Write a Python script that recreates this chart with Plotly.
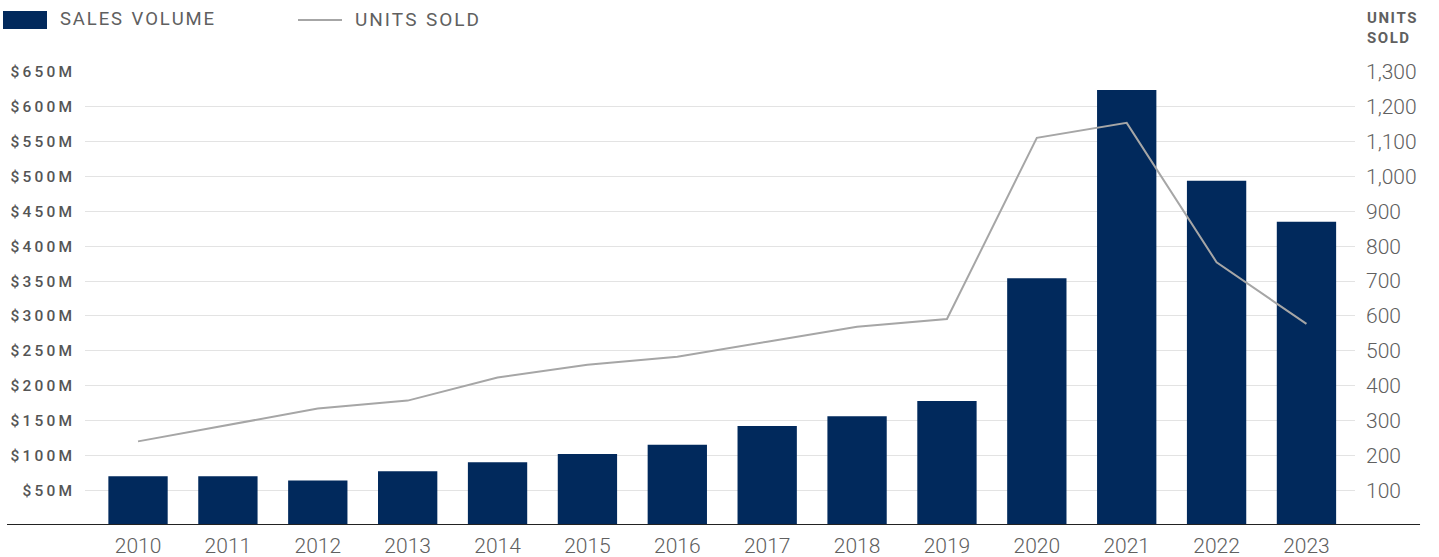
import plotly.graph_objects as go

years = [2010, 2011, 2012, 2013, 2014, 2015, 2016, 2017, 2018, 2019, 2020, 2021, 2022, 2023]
sales_m = [70, 70, 64, 77, 90, 102, 115, 142, 156, 178, 354, 624, 494, 435]
units = [240, 288, 334, 357, 423, 460, 483, 526, 569, 591, 1111, 1154, 754, 577]
left_ticks = list(range(50, 651, 50))
right_ticks = list(range(100, 1301, 100))

BAR = "#01295c"
LINE = "#a6a6a6"
GRID = "#e3e3e3"
TXT = "#606060"
FONT = "Roboto"
TS = "\u2009"  # thin space used as tracking


def track(s, sep=TS):
    return sep.join(list(s))


x = list(range(len(years)))

fig = go.Figure()
fig.add_trace(go.Bar(x=x, y=sales_m, marker=dict(color=BAR, line=dict(width=0)),
                     width=0.66, name="SALES VOLUME", yaxis="y"))
fig.add_trace(go.Scatter(x=x, y=units, mode="lines", line=dict(color=LINE, width=2),
                         name="UNITS SOLD", yaxis="y2"))

fig.update_layout(
    width=1439, height=557,
    margin=dict(l=85, r=84, t=72, b=32),
    plot_bgcolor="white", paper_bgcolor="white",
    showlegend=False,
    bargap=0.34,
    xaxis=dict(range=[-0.59, 13.54], tickvals=x, ticktext=[str(y) for y in years],
               showgrid=False, zeroline=False, showline=False, ticks="", automargin=False,
               tickfont=dict(family=FONT, size=21, color=TXT, weight=300), ticklabelstandoff=6),
    yaxis=dict(range=[0, 650], tickvals=left_ticks,
               ticktext=[track(f"${v}M") for v in left_ticks], automargin=False,
               showgrid=True, gridcolor=GRID, gridwidth=1, zeroline=False, showline=False,
               ticks="", ticklabelstandoff=12,
               tickfont=dict(family=FONT, size=15.5, color="#555555", weight=500)),
    yaxis2=dict(range=[0, 1300], tickvals=right_ticks, automargin=False,
                ticktext=[f"{v:,}" for v in right_ticks],
                overlaying="y", side="right", showgrid=False, zeroline=False,
                showline=False, ticks="", ticklabelstandoff=10,
                tickfont=dict(family=FONT, size=21, color=TXT, weight=300)),
)

# baseline
fig.add_shape(type="line", xref="paper", yref="y", x0=-0.0614, x1=1.0512, y0=0, y1=0,
              line=dict(color="#222222", width=2), layer="above")

# custom legend
fig.add_shape(type="rect", xref="paper", yref="paper",
              x0=(3 - 85) / 1270, x1=(47 - 85) / 1270,
              y0=(525 - 29) / 453, y1=(525 - 11) / 453,
              fillcolor=BAR, line=dict(width=0))
fig.add_annotation(xref="paper", yref="paper", x=(58 - 85) / 1270, y=(525 - 19) / 453,
                   xanchor="left", yanchor="middle", showarrow=False,
                   text="S A L E S  V O L U M E".replace("  ", "\u2002").replace(" ", "\u200a"),
                   font=dict(family=FONT, size=18.5, color=TXT))
fig.add_shape(type="line", xref="paper", yref="paper",
              x0=(298 - 85) / 1270, x1=(342 - 85) / 1270,
              y0=(525 - 20) / 453, y1=(525 - 20) / 453,
              line=dict(color=LINE, width=2))
fig.add_annotation(xref="paper", yref="paper", x=(353 - 85) / 1270, y=(525 - 19) / 453,
                   xanchor="left", yanchor="middle", showarrow=False,
                   text="U N I T S  S O L D".replace("  ", "\u2002").replace(" ", "\u200a"),
                   font=dict(family=FONT, size=19, color=TXT))
# right axis title
fig.add_annotation(xref="paper", yref="paper", x=(1365 - 85) / 1270, y=(525 - 7) / 453,
                   xanchor="left", yanchor="top", showarrow=False, align="left",
                   text="<b>" + track("UNITS", "\u200a") + "<br>" + track("SOLD", "\u200a") + "</b>",
                   font=dict(family=FONT, size=15, color=TXT))

fig.write_html("out.html")
